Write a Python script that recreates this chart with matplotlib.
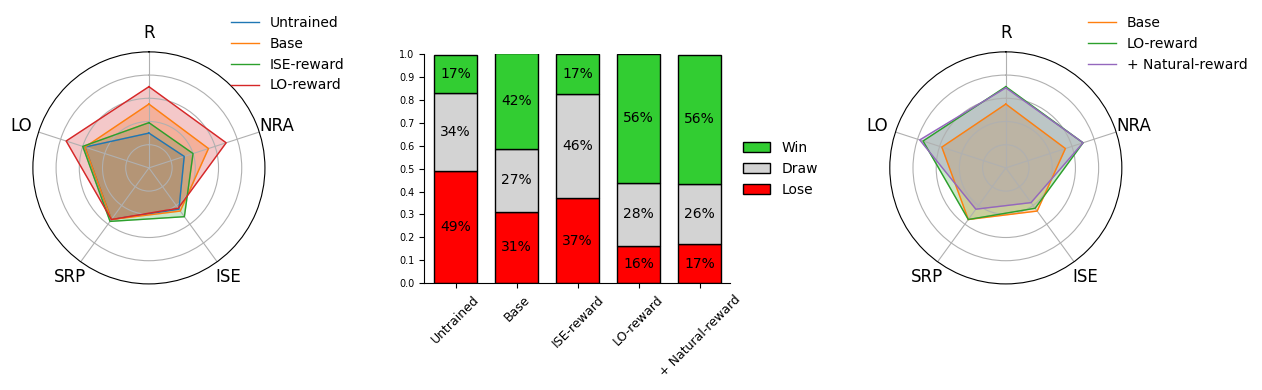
import matplotlib.pyplot as plt
import numpy as np

axis_labels = ["R", "NRA", "ISE", "SRP", "LO"]

# left radar
left_names = ["Untrained", "Base", "ISE-reward", "LO-reward"]
left_values = [
    [0.30, 0.32, 0.44, 0.55, 0.58],
    [0.55, 0.54, 0.46, 0.55, 0.58],
    [0.39, 0.40, 0.52, 0.57, 0.60],
    [0.70, 0.70, 0.43, 0.55, 0.75],
]
left_colors = ["C0", "C1", "C2", "C3"]

# right radar
right_names = ["Base", "LO-reward", "+ Natural-reward"]
right_values = [
    [0.55, 0.54, 0.46, 0.55, 0.58],
    [0.70, 0.70, 0.43, 0.55, 0.75],
    [0.69, 0.70, 0.37, 0.44, 0.78],
]
right_colors = ["C1", "C2", "C4"]

# win/draw/lose
models = ["Untrained", "Base", "ISE-reward", "LO-reward", "+ Natural-reward"]
lose = [0.490, 0.312, 0.372, 0.163, 0.171]
draw = [0.340, 0.274, 0.456, 0.276, 0.262]
win = [0.166, 0.418, 0.172, 0.561, 0.564]


def radar(ax, names, values, colors):
    n = len(axis_labels)
    theta = np.linspace(0, 2 * np.pi, n, endpoint=False)
    ax.set_theta_offset(np.pi / 2)
    ax.set_theta_direction(-1)
    for name, vals, col in zip(names, values, colors):
        t = np.append(theta, theta[0])
        v = np.append(vals, vals[0])
        ax.plot(t, v, color=col, lw=1, label=name)
        ax.fill(t, v, color=col, alpha=0.25)
    ax.set_xticks(theta)
    ax.set_xticklabels(axis_labels, fontsize=12)
    ax.set_ylim(0, 1)
    ax.set_yticks([0.2, 0.4, 0.6, 0.8])
    ax.set_yticklabels([])
    ax.tick_params(axis="x", pad=3)


fig = plt.figure(figsize=(12.62, 3.9), dpi=100)

ax1 = fig.add_axes([0.026, 0.272, 0.184, 0.595], polar=True)
radar(ax1, left_names, left_values, left_colors)
ax1.legend(loc="upper left", bbox_to_anchor=(0.80, 1.21), frameon=False, fontsize=10)

ax3 = fig.add_axes([0.705, 0.272, 0.184, 0.595], polar=True)
radar(ax3, right_names, right_values, right_colors)
ax3.legend(loc="upper left", bbox_to_anchor=(0.80, 1.21), frameon=False, fontsize=10)

ax2 = fig.add_axes([0.336, 0.274, 0.2425, 0.587])
x = np.arange(len(models))
b1 = ax2.bar(x, lose, 0.7, color="red", edgecolor="black", label="Lose")
b2 = ax2.bar(x, draw, 0.7, bottom=lose, color="lightgray", edgecolor="black", label="Draw")
bottom2 = np.array(lose) + np.array(draw)
b3 = ax2.bar(x, win, 0.7, bottom=bottom2, color="limegreen", edgecolor="black", label="Win")
for bars, vals, base in [(b1, lose, np.zeros(len(x))), (b2, draw, np.array(lose)), (b3, win, bottom2)]:
    for i, v in enumerate(vals):
        ax2.text(x[i], base[i] + v / 2, f"{v * 100:.0f}%", ha="center", va="center", fontsize=10)
ax2.set_ylim(0, 1.0)
ax2.set_yticks(np.arange(0, 1.01, 0.1))
ax2.set_yticklabels([f"{t:.1f}" for t in np.arange(0, 1.01, 0.1)], fontsize=7)
ax2.set_xticks(x)
ax2.set_xticklabels(models, rotation=45, fontsize=9)
ax2.set_xlim(-0.52, 4.5)
ax2.spines["top"].set_visible(False)
ax2.spines["right"].set_visible(False)
handles = [b3, b2, b1]
ax2.legend(handles, ["Win", "Draw", "Lose"], loc="center left", bbox_to_anchor=(1.0, 0.5),
           frameon=False, fontsize=10)

fig.savefig("out.png", dpi=100)
